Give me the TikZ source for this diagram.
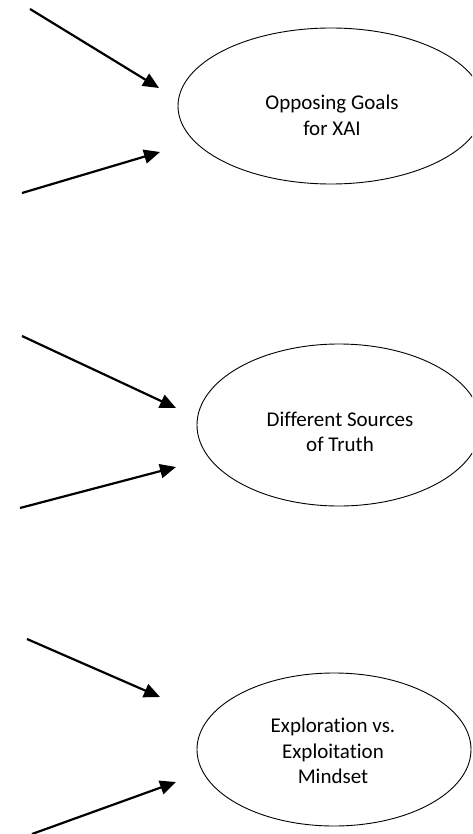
\documentclass[tikz,border=0pt]{standalone}
\usepackage{fontspec}
\setmainfont[Ligatures={NoCommon}]{Carlito}
\usetikzlibrary{arrows.meta,shapes.geometric}
\tikzset{
  oval/.style={draw=black, line width=0.9pt, ellipse, inner sep=0pt},
  lbl/.style={align=center, inner sep=0pt, font=\fontsize{21}{25.5}\selectfont},
  arr/.style={line width=2.2pt, -{Triangle[length=16pt,width=14pt]}, shorten >=0pt}
}
\begin{document}
\begin{tikzpicture}[x=1pt,y=-1pt]
\useasboundingbox (0,0) rectangle (472,834);
\begin{scope}
\clip (0,0) rectangle (472,834);
% ellipses
\node[oval, minimum width=306pt, minimum height=156pt] (e1) at (331,106) {};
\node[oval, minimum width=284pt, minimum height=162pt] (e2) at (339,425) {};
\node[oval, minimum width=274pt, minimum height=153pt] (e3) at (334,749.5) {};
\end{scope}
% labels
\node[lbl] (t1) at (332,115.5) {Opposing Goals\\for XAI};
\node[lbl] (t2) at (340,432) {Different Sources\\of Truth};
\node[lbl] (t3) at (333,751) {Exploration vs.\\Exploitation\\Mindset};
% arrow end points
\coordinate (s1) at (30,9);   \coordinate (p1) at (159,88);
\coordinate (s2) at (22,193); \coordinate (p2) at (160,152);
\coordinate (s3) at (22,336); \coordinate (p3) at (176,408);
\coordinate (s4) at (20,508); \coordinate (p4) at (176,467);
\coordinate (s5) at (27,639); \coordinate (p5) at (160,697);
\coordinate (s6) at (32,834); \coordinate (p6) at (176,782);
\draw[arr] (s1) -- (p1);
\draw[arr] (s2) -- (p2);
\draw[arr] (s3) -- (p3);
\draw[arr] (s4) -- (p4);
\draw[arr] (s5) -- (p5);
\draw[arr] (s6) -- (p6);
\end{tikzpicture}
\end{document}
